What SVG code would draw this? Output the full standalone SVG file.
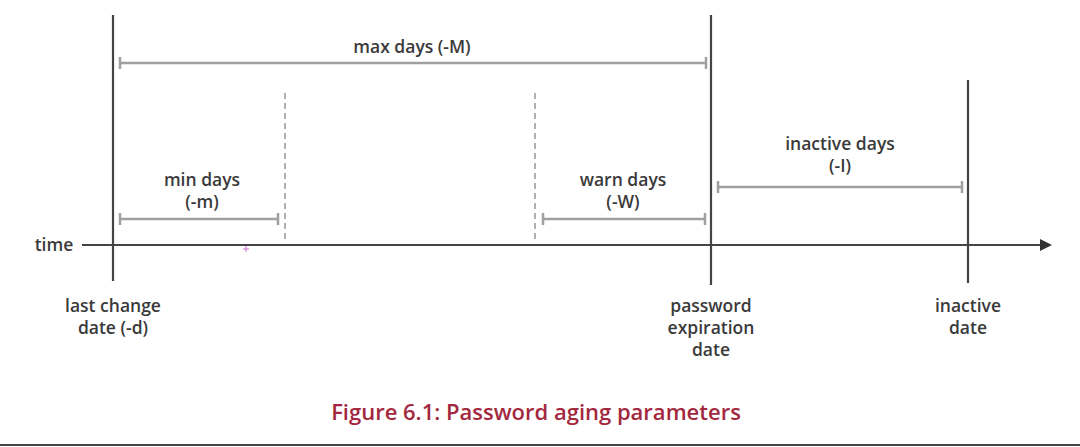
<svg xmlns="http://www.w3.org/2000/svg" width="1080" height="447" viewBox="0 0 1080 447">
<defs>
<style>
.lbl{font-family:"Open Sans","Liberation Sans",sans-serif;font-size:17.5px;font-weight:600;fill:#3a3a3a;text-anchor:middle}
.solid{stroke:#444;stroke-width:2.2;fill:none}
.dash{stroke:#b0b0b0;stroke-width:2;stroke-dasharray:6 4;fill:none}
.brk{stroke:#a0a0a0;stroke-width:2.5;fill:none}
.cap{font-family:"Open Sans","Liberation Sans",sans-serif;font-size:22px;font-weight:600;fill:#a3283e;text-anchor:middle}
</style>
<marker id="arr" markerWidth="12" markerHeight="12" refX="10" refY="6" orient="auto" markerUnits="userSpaceOnUse">
<path d="M0,0 L12,6 L0,12 Z" fill="#333"/>
</marker>
</defs>
<rect width="1080" height="447" fill="#fff"/>
<g id="connectors">
<line class="solid" x1="82" y1="245" x2="1050" y2="245" marker-end="url(#arr)"/>
<line class="solid" x1="113" y1="15" x2="113" y2="281"/>
<line class="solid" x1="711" y1="15" x2="711" y2="285"/>
<line class="solid" x1="968" y1="80" x2="968" y2="283"/>
<line class="dash" x1="285" y1="93" x2="285" y2="241"/>
<line class="dash" x1="535" y1="93" x2="535" y2="241"/>
</g>
<g id="max-days">
<path class="brk" d="M120,57 V69 M120,63 H706 M706,57 V69"/>
<text class="lbl" x="412" y="53">max days (-M)</text>
</g>
<g id="min-days">
<path class="brk" d="M120,213 V225 M120,219 H278 M278,213 V225"/>
<text class="lbl" x="202" y="186">min days</text>
<text class="lbl" x="202" y="208">(-m)</text>
</g>
<g id="warn-days">
<path class="brk" d="M543,213 V225 M543,219 H705 M705,213 V225"/>
<text class="lbl" x="623" y="186">warn days</text>
<text class="lbl" x="623" y="208">(-W)</text>
</g>
<g id="inactive-days">
<path class="brk" d="M718,181 V193 M718,187 H962 M962,181 V193"/>
<text class="lbl" x="840" y="150">inactive days</text>
<text class="lbl" x="840" y="172">(-I)</text>
</g>
<g id="time">
<text class="lbl" x="54" y="251">time</text>
</g>
<g id="last-change">
<text class="lbl" x="113" y="312">last change</text>
<text class="lbl" x="113" y="334">date (-d)</text>
</g>
<g id="password-expiration">
<text class="lbl" x="711" y="312">password</text>
<text class="lbl" x="711" y="334">expiration</text>
<text class="lbl" x="711" y="356">date</text>
</g>
<g id="inactive-date">
<text class="lbl" x="968" y="312">inactive</text>
<text class="lbl" x="968" y="334">date</text>
</g>
<path d="M246,246 V252 M243,249 H249" stroke="#d070d0" stroke-width="1"/>
<text class="cap" x="536" y="420">Figure 6.1: Password aging parameters</text>
<line x1="0" y1="445" x2="1080" y2="445" stroke="#444" stroke-width="2"/>
</svg>
